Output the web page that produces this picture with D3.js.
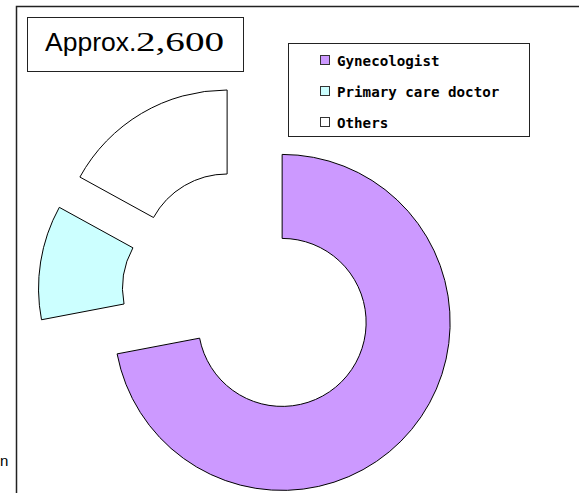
<!DOCTYPE html>
<html>
<head>
<meta charset="utf-8">
<script src="https://cdn.jsdelivr.net/npm/d3@7/dist/d3.min.js"></script>
<style>
  body { margin: 0; background: #fff; }
  svg { display: block; }
</style>
</head>
<body>
<svg id="chart" width="579" height="493"></svg>
<script>

// chart data
var categories = ["Gynecologist", "Primary care doctor", "Others"];
var shares = [72, 11, 17];
var colors = ["#CC99FF", "#CCFFFF", "#FFFFFF"];
var totalLabel = ["Approx.", "2,600"];

var svg = d3.select("#chart");

var cx = 249, cy = 295;
var outerR = 168, innerR = 84;
var explode = 43;

// outer frame
svg.append("rect")
    .attr("x", 16.5).attr("y", 6.5)
    .attr("width", 600).attr("height", 600)
    .style("fill", "none").style("stroke", "#222").style("stroke-width", 1.5);

svg.append("text").attr("x", 0).attr("y", 466)
    .style("font-family", "Arial, 'Liberation Sans', sans-serif").style("font-size", "15px")
    .text("n");

// donut
var pie = d3.pie().sort(null).value(function(d) { return d; });
var arc = d3.arc().innerRadius(innerR).outerRadius(outerR);
var arcs = pie(shares);

svg.append("g")
    .attr("transform", "translate(" + cx + "," + cy + ")")
    .selectAll("path")
    .data(arcs)
    .enter().append("path")
    .attr("transform", function(d) {
        var a = (d.startAngle + d.endAngle) / 2;
        return "translate(" + (explode * Math.sin(a)) + "," + (-explode * Math.cos(a)) + ")";
    })
    .attr("d", arc)
    .style("fill", function(d, i) { return colors[i]; })
    .style("stroke", "#000")
    .style("stroke-width", 1);

// total box
svg.append("rect")
    .attr("x", 27.5).attr("y", 17.5)
    .attr("width", 216).attr("height", 54)
    .style("fill", "#fff").style("stroke", "#222").style("stroke-width", 1);

svg.append("text").attr("x", 45).attr("y", 51)
    .style("font-family", "Arial, 'Liberation Sans', sans-serif").style("font-size", "26.5px")
    .text(totalLabel[0]);

// the number is set in a wide serif face
svg.append("text")
    .attr("transform", "translate(136,51) scale(1.45,1)")
    .style("font-family", "'Liberation Serif', 'DejaVu Serif', serif").style("font-size", "27px")
    .text(totalLabel[1]);

// legend
svg.append("rect")
    .attr("x", 288.5).attr("y", 43.5)
    .attr("width", 241).attr("height", 93)
    .style("fill", "#fff").style("stroke", "#222").style("stroke-width", 1);

var legend = svg.selectAll("g.legend")
    .data(categories)
    .enter().append("g")
    .attr("class", "legend")
    .attr("transform", function(d, i) { return "translate(320," + (60 + i * 31) + ")"; });

legend.append("rect")
    .attr("x", 0.5).attr("y", -4.5)
    .attr("width", 9).attr("height", 9)
    .style("fill", function(d, i) { return colors[i]; })
    .style("stroke", "#333").style("stroke-width", 1);

legend.append("text")
    .attr("x", 17).attr("y", 5.5)
    .style("font-family", "'DejaVu Sans Mono', monospace")
    .style("font-weight", "bold").style("font-size", "14.2px")
    .text(function(d) { return d; });

</script>
</body>
</html>
